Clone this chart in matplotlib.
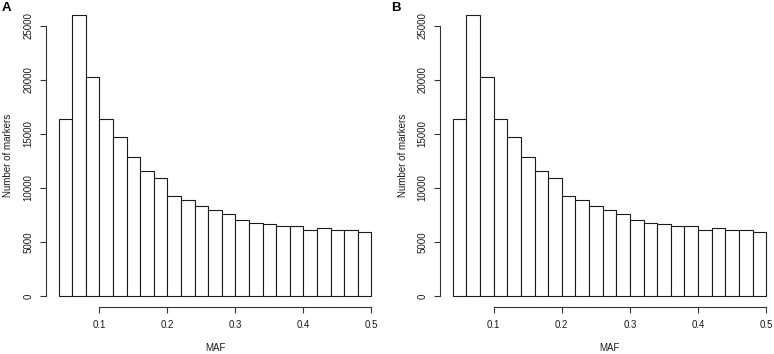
import matplotlib
matplotlib.use("Agg")
import matplotlib.pyplot as plt
import numpy as np

plt.rcParams['font.family'] = ['Liberation Sans', 'DejaVu Sans']

# Data
bin_edges = [0.04, 0.06, 0.08, 0.10, 0.12, 0.14, 0.16, 0.18, 0.20, 0.22, 0.24, 0.26,
             0.28, 0.30, 0.32, 0.34, 0.36, 0.38, 0.40, 0.42, 0.44, 0.46, 0.48, 0.50]
counts_A = [16350, 26000, 20300, 16350, 14700, 12850, 11550, 10900, 9280, 8850, 8300,
            8000, 7550, 7000, 6750, 6650, 6450, 6500, 6100, 6250, 6150, 6080, 5900]
counts_B = [16350, 26000, 20300, 16350, 14700, 12850, 11550, 10900, 9280, 8850, 8300,
            8000, 7550, 7000, 6750, 6650, 6450, 6500, 6100, 6250, 6150, 6080, 5900]
x_ticks = [0.1, 0.2, 0.3, 0.4, 0.5]
x_ticklabels = ["0.1", "0.2", "0.3", "0.4", "0.5"]
y_ticks = [0, 5000, 10000, 15000, 20000, 25000]
y_ticklabels = ["0", "5000", "10000", "15000", "20000", "25000"]
panel_labels = ["A", "B"]
xlabel = "MAF"
ylabel = "Number of markers"

W, H = 774, 354
fig = plt.figure(figsize=(W / 100, H / 100), dpi=100)

def px_axes(left, right, top, bottom):
    return [left / W, 1 - bottom / H, (right - left) / W, (bottom - top) / H]

panels = [
    (counts_A, (46.0, 384.0, 4.0, 307.2), (2, 2)),
    (counts_B, (440.2, 778.8, 4.0, 307.2), (391, 2)),
]

text_color = "#1a1a1a"
fs = 7.0
edges = np.array(bin_edges)
widths = np.diff(edges)

for (counts, box, lblpos), plabel in zip(panels, panel_labels):
    ax = fig.add_axes(px_axes(*box))
    ax.bar(edges[:-1], counts, width=widths, align='edge', facecolor='white',
           edgecolor='#1a1a1a', linewidth=0.8)
    xmin, xmax = edges[0], edges[-1]
    pad = (xmax - xmin) * 0.04
    ax.set_xlim(xmin - pad, xmax + pad)
    ymax = max(counts)
    ax.set_ylim(-ymax * 0.04, ymax * 1.04)
    for s in ['top', 'right']:
        ax.spines[s].set_visible(False)
    ax.spines['left'].set_bounds(y_ticks[0], y_ticks[-1])
    ax.spines['bottom'].set_bounds(x_ticks[0], x_ticks[-1])
    for s in ['left', 'bottom']:
        ax.spines[s].set_linewidth(0.8)
        ax.spines[s].set_color('#333333')
    ax.set_xticks(x_ticks)
    ax.set_xticklabels(x_ticklabels)
    ax.set_yticks(y_ticks)
    ax.set_yticklabels(y_ticklabels, rotation=90, va='center')
    ax.tick_params(axis='both', length=4.3, width=0.8, color='#333333',
                   labelsize=fs, labelcolor=text_color, direction='out')
    ax.tick_params(axis='x', pad=5.2)
    ax.tick_params(axis='y', pad=4.8)
    left, right, top, bottom = box
    fig.text(((left + right) / 2) / W, 1 - 348 / H, xlabel, fontsize=fs,
             color=text_color, ha='center', va='center')
    fig.text((left - 37.5) / W, 1 - ((top + bottom) / 2) / H, ylabel, fontsize=fs,
             color=text_color, ha='center', va='center', rotation=90)
    fig.text(lblpos[0] / W, 1 - lblpos[1] / H, plabel, fontsize=9.5,
             fontweight='bold', ha='left', va='top', color='black')

fig.savefig("out.png", dpi=100)
